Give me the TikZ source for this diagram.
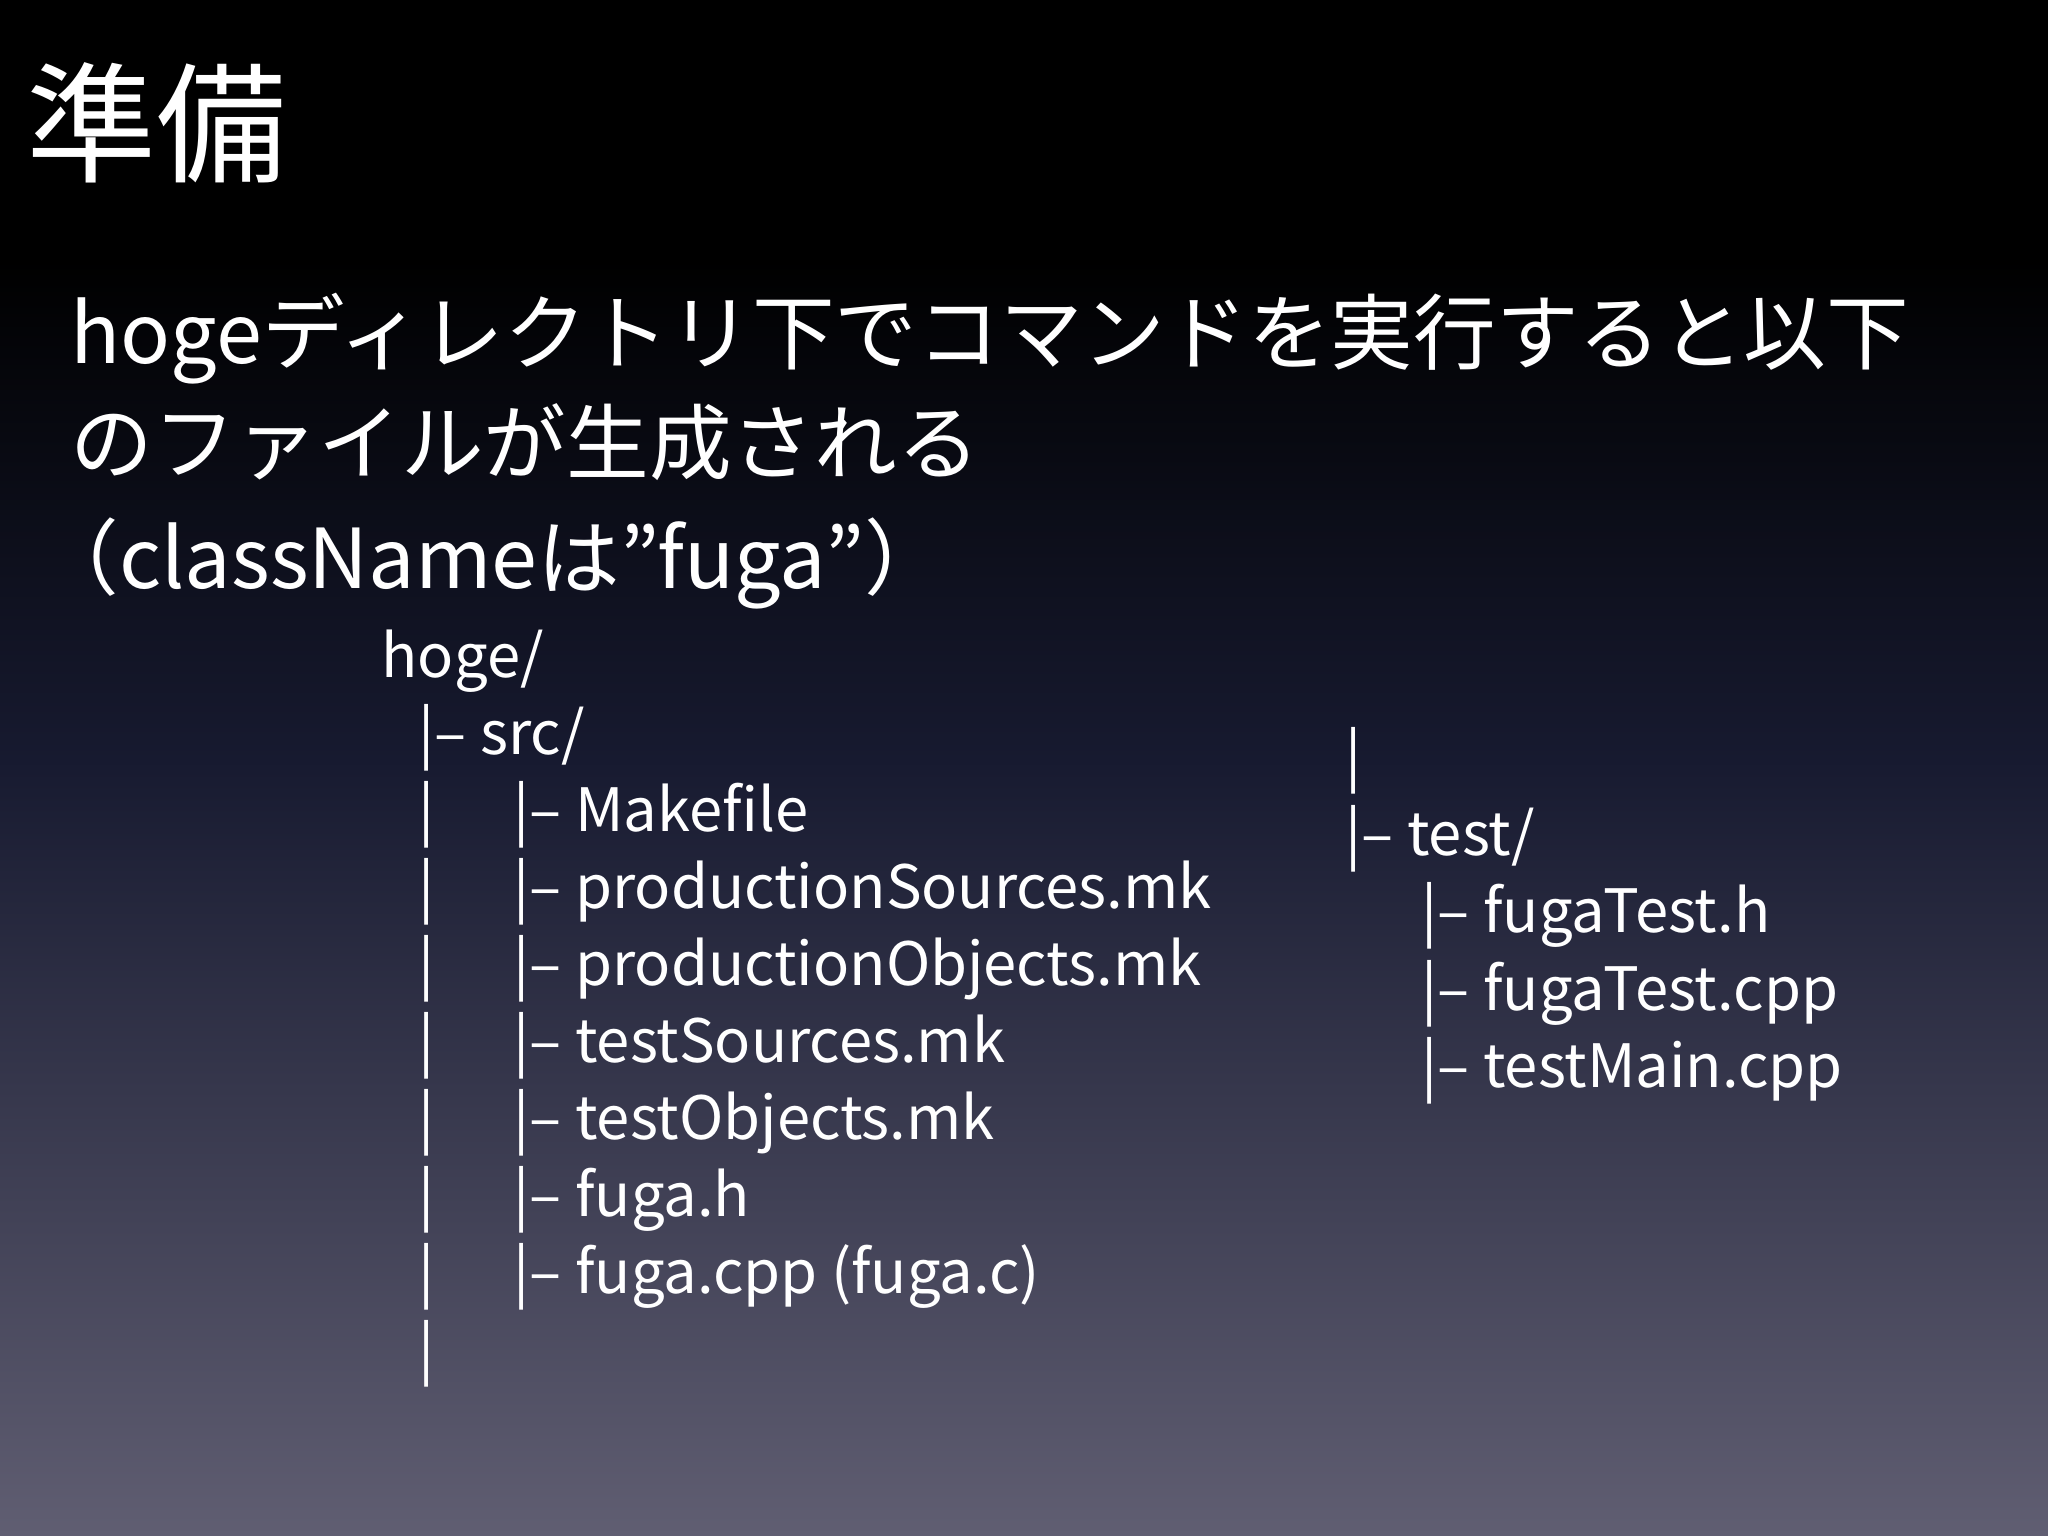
\documentclass[tikz,border=0pt]{standalone}
\usepackage{fontspec}
\setmainfont{Noto Sans CJK JP}
\definecolor{navy}{HTML}{171A30}
\definecolor{botc}{HTML}{605E72}
\tikzset{
  ttl/.style={anchor=base west,text=white,inner sep=0pt,font=\fontsize{37}{40}\selectfont},
  body/.style={anchor=base west,text=white,inner sep=0pt,font=\fontsize{23.5}{26}\selectfont},
  tree/.style={anchor=base west,text=white,inner sep=0pt,font=\fontsize{17}{20}\selectfont}
}
\begin{document}
\begin{tikzpicture}[x=0.01cm,y=-0.01cm]
\useasboundingbox (0,0) rectangle (2048,1536);
\fill[black] (0,0) rectangle (2048,260);
\shade[top color=black,bottom color=navy] (0,259) rectangle (2048,760);
\shade[top color=navy,bottom color=botc] (0,759) rectangle (2048,1536);
\node[ttl] (t) at (26,172) {準備};
\node[body] (b1) at (70,363) {hogeディレクトリ下でコマンドを実行すると以下};
\node[body] (b2) at (70,473) {のファイルが生成される};
\node[body] (b3) at (36,588) {（classNameは”fuga”）};
\node[tree] (r0) at (381,677) {hoge/};
\node[tree] (r1) at (418,754) {|– src/};
\foreach \y/\t [count=\i] in {831/Makefile,908/productionSources.mk,985/productionObjects.mk,1062/testSources.mk,1139/testObjects.mk,1216/fuga.h,1293/{fuga.cpp (fuga.c)}}{
  \node[tree] (bar\i) at (418,\y) {|};
  \node[tree] (f\i) at (513,\y) {|– \t};
}
\node[tree] (bar8) at (418,1370) {|};
\node[tree] (rb) at (1345,777) {|};
\node[tree] (rt) at (1345,855) {|– test/};
\node[tree] (g1) at (1421,932) {|– fugaTest.h};
\node[tree] (g2) at (1421,1010) {|– fugaTest.cpp};
\node[tree] (g3) at (1421,1087) {|– testMain.cpp};
\end{tikzpicture}
\end{document}
